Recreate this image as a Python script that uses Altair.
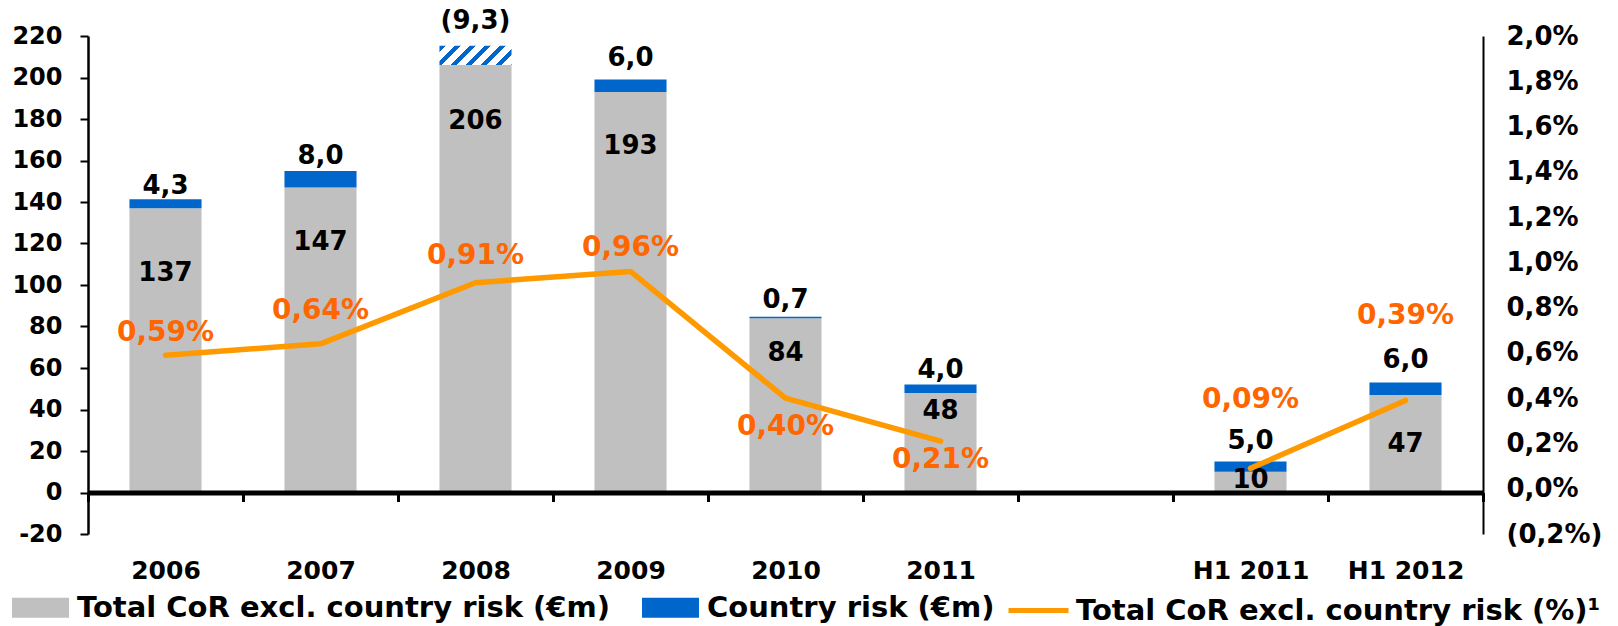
import altair as alt
import pandas as pd

# ---- data -----------------------------------------------------------------
periods = ["2006", "2007", "2008", "2009", "2010", "2011", "H1 2011", "H1 2012"]
cor_eur_m = [137, 147, 206, 193, 84, 48, 10, 47]            # Total CoR excl. country risk (EUR m)
country_risk_eur_m = [4.3, 8.0, -9.3, 6.0, 0.7, 4.0, 5.0, 6.0]  # Country risk (EUR m); negative = release
cor_pct = [0.59, 0.64, 0.91, 0.96, 0.40, 0.21, 0.09, 0.39]  # Total CoR excl. country risk (%)
period_kind = ["FY", "FY", "FY", "FY", "FY", "FY", "H1", "H1"]

# label nudges in pixels (positive = downwards)
cor_label_dy = [65, 55, 56, 54, 35, 18, 8, 49]
country_label_dy = [-13, -15, -25, -22, -17, -15, -20, -23]
pct_label_dy = [-22, -33, -27, -23, 29, 19, -68, -84]

GRAY_NAME = "Total CoR excl. country risk (€m)"
BLUE_NAME = "Country risk (€m)"
LINE_NAME = "Total CoR excl. country risk (%)¹"

GRAY = "#C0C0C0"
BLUE = "#0066CC"
ORANGE_LINE = "#FF9900"
ORANGE_TEXT = "#FF6600"
FONT = "DejaVu Sans"

W_PLOT, H_PLOT = 1395, 498
Y_LEFT = [-20, 220]
Y_RIGHT = [-0.2, 2.0]
BAR_BAND = 0.465

px_left = H_PLOT / (Y_LEFT[1] - Y_LEFT[0])     # pixels per EUR m
px_right = H_PLOT / (Y_RIGHT[1] - Y_RIGHT[0])  # pixels per percentage point

df = pd.DataFrame({
    "period": periods,
    "cor": cor_eur_m,
    "country": country_risk_eur_m,
    "pct": cor_pct,
    "kind": period_kind,
    "cor_dy": cor_label_dy,
    "country_dy": country_label_dy,
    "pct_dy": pct_label_dy,
})
df["top"] = df["cor"] + df["country"].abs()

# an empty slot separates the full years from the half-years
x_domain = periods[:6] + [" "] + periods[6:]

# ---- hatched fill for a negative country-risk segment ----------------------
bar_w = BAR_BAND * W_PLOT / len(x_domain)
hatch_h = max(abs(v) for v in country_risk_eur_m if v < 0) * px_left
gx = (bar_w + hatch_h) * bar_w / (bar_w ** 2 + hatch_h ** 2)
gy = gx * hatch_h / bar_w
period_t = 15.0 / (bar_w + hatch_h)
stripe_t = 0.42 * period_t
stops = []
t = 0.0
while t < 1.0:
    e1 = min(t + stripe_t, 1.0)
    e2 = min(t + period_t, 1.0)
    stops += [
        {"offset": round(t, 4), "color": BLUE},
        {"offset": round(e1, 4), "color": BLUE},
        {"offset": round(e1, 4), "color": "#FFFFFF"},
        {"offset": round(e2, 4), "color": "#FFFFFF"},
    ]
    t += period_t
hatch_fill = {"gradient": "linear", "x1": 0, "y1": 0, "x2": gx, "y2": gy, "stops": stops}

# ---- encodings ----------------------------------------------------------------
x_enc = alt.X(
    "period:N",
    scale=alt.Scale(domain=x_domain, paddingInner=0, paddingOuter=0),
    axis=alt.Axis(
        title=None, labelAngle=0, tickBand="extent", offset=-41.5,
        domainColor="black", domainWidth=5, tickColor="black", tickWidth=3, tickSize=9,
        labelPadding=57, labelFont=FONT, labelFontSize=25, labelFontWeight="bold",
        labelColor="black", zindex=1,
    ),
)

left_axis = alt.Axis(
    title=None, values=list(range(-20, 221, 20)), grid=False,
    labelExpr="datum.value < 0 ? '-' + format(-datum.value, 'd') : format(datum.value, 'd')",
    domainColor="black", domainWidth=2.5, tickColor="black", tickWidth=2, tickSize=8,
    labelPadding=18, labelFont=FONT, labelFontSize=24, labelFontWeight="bold", labelColor="black",
)
y_left = alt.Scale(domain=Y_LEFT, nice=False, zero=False)

right_axis = alt.Axis(
    title=None, orient="right", values=[round(-0.2 + 0.2 * i, 1) for i in range(12)], grid=False,
    labelExpr=("datum.value < 0 ? '(' + replace(format(-datum.value, '.1f'), '.', ',') + '%)' : "
               "replace(format(datum.value, '.1f'), '.', ',') + '%'"),
    domainColor="black", domainWidth=2, ticks=False, tickSize=0,
    labelPadding=23, labelFont=FONT, labelFontSize=26, labelFontWeight="bold", labelColor="black",
)
y_right = alt.Scale(domain=Y_RIGHT, nice=False, zero=False)

fill_scale = alt.Scale(domain=[GRAY_NAME, BLUE_NAME], range=[GRAY, BLUE])
fill_legend = alt.Legend(
    orient="none", legendX=-76, legendY=543, direction="horizontal", title=None,
    symbolType="M-1,-0.35H1V0.35H-1Z", symbolSize=3249, symbolStrokeWidth=0,
    labelFont=FONT, labelFontSize=29, labelFontWeight="bold", labelColor="black",
    labelOffset=8, columnPadding=32, padding=0, labelLimit=2000,
)
stroke_legend = alt.Legend(
    orient="none", legendX=918, legendY=542, direction="horizontal", title=None,
    symbolType="stroke", symbolSize=3600, symbolStrokeWidth=5,
    labelFont=FONT, labelFontSize=29, labelFontWeight="bold", labelColor="black",
    labelOffset=5, padding=0, labelLimit=2000,
)

base = alt.Chart(df)

gray_bars = base.mark_bar(width={"band": BAR_BAND}).transform_calculate(
    series=f"'{GRAY_NAME}'"
).encode(
    x=x_enc,
    y=alt.Y("cor:Q", scale=y_left, axis=left_axis),
    y2=alt.datum(0),
    fill=alt.Fill("series:N", scale=fill_scale, legend=fill_legend),
)

blue_bars = base.mark_bar(width={"band": BAR_BAND}).transform_filter(
    "datum.country > 0"
).transform_calculate(
    series=f"'{BLUE_NAME}'"
).encode(
    x=x_enc,
    y=alt.Y("cor:Q", scale=y_left),
    y2="top:Q",
    fill=alt.Fill("series:N", scale=fill_scale),
)

hatch_bars = base.mark_bar(width={"band": BAR_BAND}, fill=hatch_fill).transform_filter(
    "datum.country < 0"
).encode(
    x=x_enc,
    y=alt.Y("cor:Q", scale=y_left),
    y2="top:Q",
)

text_style = dict(font=FONT, fontWeight="bold", align="center", baseline="middle")

cor_text = base.mark_text(fontSize=26, color="black", **text_style).transform_calculate(
    lbl="format(datum.cor, 'd')",
    ly=f"datum.cor - datum.cor_dy / {px_left}",
).encode(
    x=x_enc,
    y=alt.Y("ly:Q", scale=y_left),
    text="lbl:N",
)

country_text = base.mark_text(fontSize=26, color="black", **text_style).transform_calculate(
    lbl=("datum.country < 0 ? '(' + replace(format(-datum.country, '.1f'), '.', ',') + ')' : "
         "replace(format(datum.country, '.1f'), '.', ',')"),
    ly=f"datum.top - datum.country_dy / {px_left}",
).encode(
    x=x_enc,
    y=alt.Y("ly:Q", scale=y_left),
    text="lbl:N",
)

line = base.mark_line(strokeWidth=5.5, strokeCap="round", strokeJoin="round").transform_calculate(
    series=f"'{LINE_NAME}'"
).encode(
    x=x_enc,
    y=alt.Y("pct:Q", scale=y_right, axis=right_axis),
    detail="kind:N",
    stroke=alt.Stroke("series:N", scale=alt.Scale(domain=[LINE_NAME], range=[ORANGE_LINE]),
                      legend=stroke_legend),
)

pct_text = base.mark_text(fontSize=28, color=ORANGE_TEXT, **text_style).transform_calculate(
    lbl="replace(format(datum.pct, '.2f'), '.', ',') + '%'",
    ly=f"datum.pct - datum.pct_dy / {px_right}",
).encode(
    x=x_enc,
    y=alt.Y("ly:Q", scale=y_right),
    text="lbl:N",
)

left = alt.layer(gray_bars, blue_bars, hatch_bars, cor_text, country_text)
right = alt.layer(line, pct_text)

chart = alt.layer(left, right).resolve_scale(y="independent").properties(
    width=W_PLOT,
    height=H_PLOT,
    padding={"left": 88, "top": 36, "right": 135, "bottom": 92},
    autosize=alt.AutoSizeParams(type="none"),
    background="white",
).configure_view(stroke=None)

chart.save("out.html", embed_options={"renderer": "svg", "actions": False})
